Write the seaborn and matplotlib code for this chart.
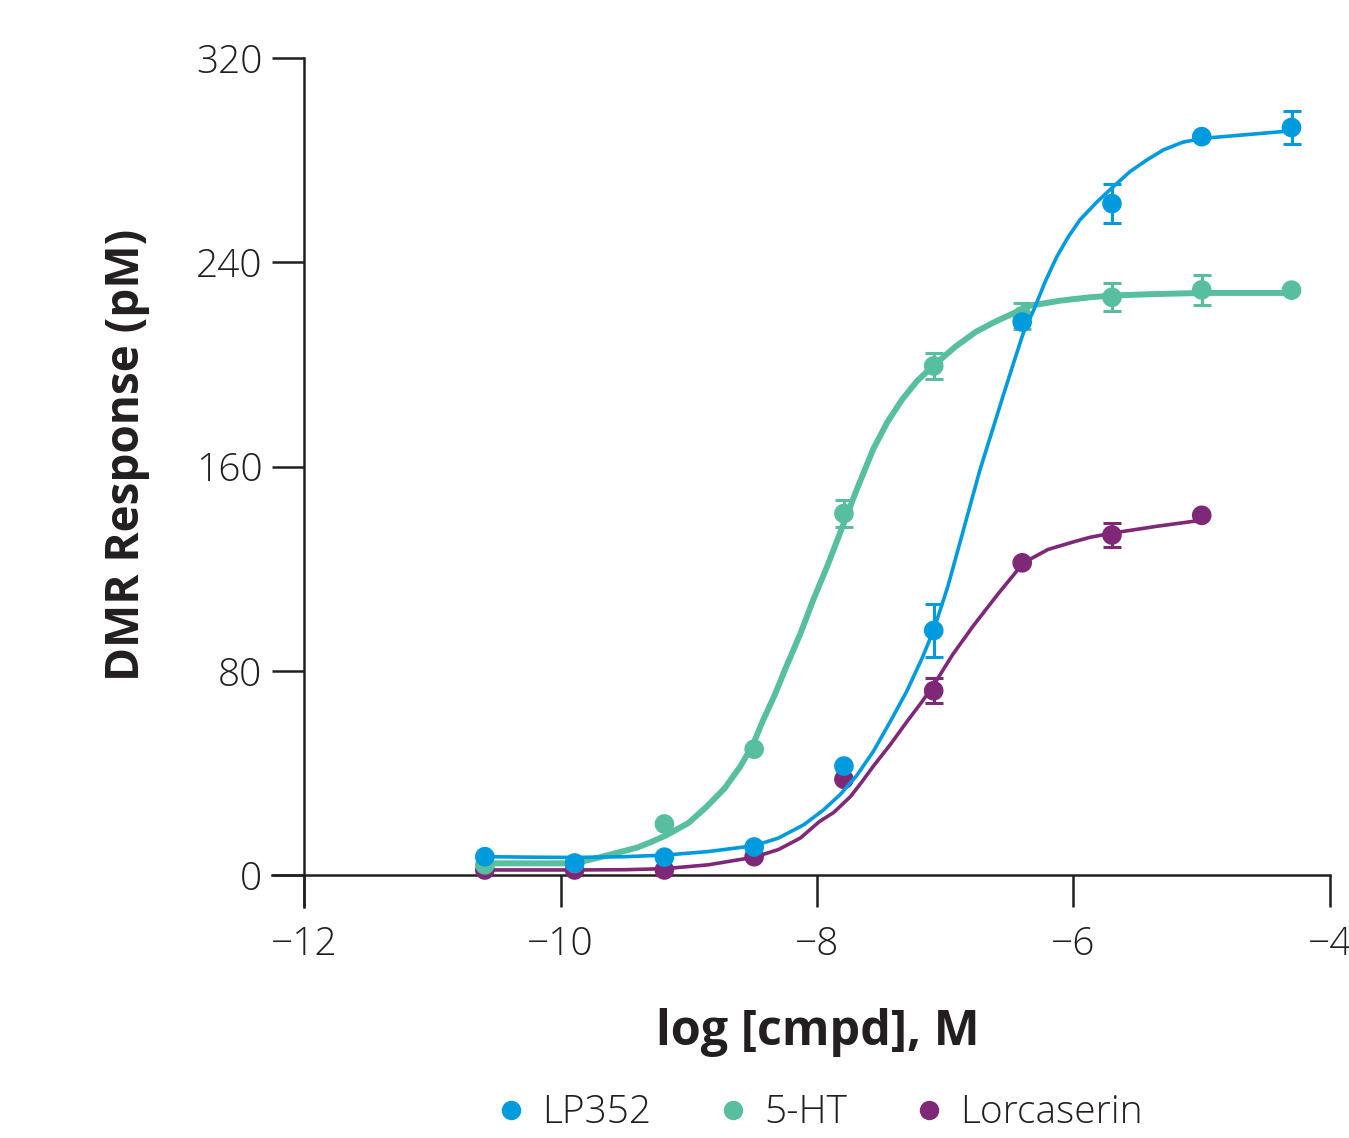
import numpy as np
import pandas as pd
import seaborn as sns
import matplotlib.pyplot as plt
from matplotlib.lines import Line2D

sns.set_style("white")
plt.rcParams["font.family"] = ["Open Sans", "DejaVu Sans"]

# 数据点 (log M)
dose = [-10.59, -9.89, -9.19, -8.49, -7.79, -7.09, -6.40, -5.70, -5.00, -4.30]
lp352_y = [7.2, 4.7, 7.0, 11.0, 42.7, 95.8, 216.6, 263.0, 289.2, 292.8]
lp352_err = [0, 0, 0, 0, 0, 10.5, 0, 7.7, 0, 6.5]
ht_y = [4.0, 4.6, 20.0, 49.3, 141.6, 199.4, 219.0, 226.3, 229.2, 229.1]
ht_err = [0, 0, 0, 0, 5.4, 5.2, 5.0, 5.5, 6.0, 0]
lorc_y = [2.0, 2.0, 2.0, 7.2, 37.5, 72.2, 122.3, 133.2, 140.9]
lorc_err = [0, 0, 0, 0, 0, 5.0, 0, 4.8, 0]

# 拟合曲线
lp352_fit_x = [-10.59, -10.2, -9.89, -9.5, -9.19, -8.85, -8.49, -8.3, -8.1, -7.95,
               -7.82, -7.69, -7.56, -7.43, -7.3, -7.18, -7.09, -6.98, -6.87, -6.73,
               -6.64, -6.55, -6.46, -6.39, -6.31, -6.22, -6.13, -6.04, -5.95, -5.82,
               -5.69, -5.56, -5.43, -5.3, -5.15, -5.0, -4.65, -4.3]
lp352_fit_y = [7.2, 7.0, 6.9, 7.2, 7.8, 9.2, 11.5, 14.5, 19.8, 25.5,
               31.5, 39.0, 48.5, 60.0, 72.0, 85.0, 96.0, 113.0, 133.0, 158.6,
               173.0, 187.5, 201.7, 212.5, 221.3, 232.5, 242.2, 250.0, 256.6, 263.5,
               269.6, 275.5, 280.0, 284.0, 287.0, 288.5, 290.0, 291.5]
ht_fit_x = [-10.59, -10.2, -9.89, -9.69, -9.56, -9.4, -9.3, -9.17, -9.0, -8.86,
            -8.72, -8.6, -8.5, -8.42, -8.33, -8.24, -8.13, -8.03, -7.92, -7.82,
            -7.69, -7.56, -7.45, -7.34, -7.22, -7.09, -6.92, -6.76, -6.62, -6.47,
            -6.34, -6.1, -5.87, -5.69, -5.4, -5.0, -4.3]
ht_fit_y = [4.6, 4.6, 4.6, 7.0, 8.7, 10.8, 12.8, 15.7, 20.5, 26.8,
            34.0, 42.4, 51.0, 60.7, 70.5, 81.6, 94.5, 107.7, 121.0, 134.0,
            151.0, 167.0, 177.5, 186.0, 193.5, 199.6, 207.0, 212.8, 216.5, 220.0,
            223.0, 225.0, 226.3, 227.0, 227.5, 228.0, 228.0]
lorc_fit_x = [-10.59, -10.2, -9.89, -9.5, -9.19, -8.85, -8.49, -8.3, -8.13, -7.98,
              -7.87, -7.74, -7.65, -7.56, -7.43, -7.3, -7.18, -7.09, -6.94, -6.78,
              -6.59, -6.39, -6.2, -6.0, -5.87, -5.69, -5.35, -5.0]
lorc_fit_y = [2.0, 2.0, 2.0, 2.1, 2.5, 4.0, 7.0, 10.0, 14.5, 21.0,
              24.5, 30.7, 36.5, 42.7, 51.0, 60.0, 68.0, 74.5, 86.5, 97.7,
              110.0, 122.3, 127.5, 130.5, 132.3, 134.0, 136.6, 139.0]

names = ["LP352", "5-HT", "Lorcaserin"]
colors = {"LP352": "#009ADE", "5-HT": "#57BF9F", "Lorcaserin": "#7F2878"}
widths = {"LP352": 2.6, "5-HT": 4.3, "Lorcaserin": 2.6}

points = {
    "LP352": (dose, lp352_y, lp352_err),
    "5-HT": (dose, ht_y, ht_err),
    "Lorcaserin": (dose[:9], lorc_y, lorc_err),
}
fits = {
    "LP352": (lp352_fit_x, lp352_fit_y),
    "5-HT": (ht_fit_x, ht_fit_y),
    "Lorcaserin": (lorc_fit_x, lorc_fit_y),
}

ink = "#231f20"
fig = plt.figure(figsize=(13.49, 11.38), dpi=100)
ax = fig.add_axes([0.2016, 0.2030, 0.7843, 0.7460])

# 紫色最底层, 蓝色最上层
for z, name in enumerate(["Lorcaserin", "5-HT", "LP352"]):
    fx, fy = fits[name]
    sns.lineplot(x=fx, y=fy, color=colors[name], linewidth=widths[name],
                 ax=ax, zorder=3 + 2 * z, legend=False)
    px, py, pe = points[name]
    df = pd.DataFrame({"x": px, "y": py, "e": pe})
    sns.scatterplot(data=df, x="x", y="y", color=colors[name], s=200,
                    edgecolor="none", ax=ax, zorder=4 + 2 * z, legend=False)
    de = df[df["e"] > 0]
    ax.errorbar(de["x"], de["y"], yerr=de["e"], fmt="none", ecolor=colors[name],
                elinewidth=2.2, capsize=6.5, capthick=2.2, zorder=4 + 2 * z)

ax.set_xlim(-12.25, -4)
ax.set_ylim(-12.5, 320)
ax.spines["left"].set_position(("data", -12))
ax.spines["bottom"].set_position(("data", 0))
ax.spines["top"].set_visible(False)
ax.spines["right"].set_visible(False)
for s in ["left", "bottom"]:
    ax.spines[s].set_linewidth(1.8)
    ax.spines[s].set_color(ink)
ax.set_xticks([-12, -10, -8, -6, -4])
ax.set_yticks([0, 80, 160, 240, 320])
ax.tick_params(axis="both", direction="out", length=23, width=1.8, color=ink,
               labelsize=28, labelcolor=ink)
ax.tick_params(axis="y", pad=7, left=True)
ax.tick_params(axis="x", pad=13, bottom=True)
for lab in ax.get_xticklabels() + ax.get_yticklabels():
    lab.set_fontweight("light")
ax.set_xlabel("")
ax.set_ylabel("")

fig.text(0.6064, 0.0817, "log [cmpd], M", fontsize=35, fontweight="bold",
         color=ink, ha="center", va="baseline")
fig.text(0.094, 0.600, "DMR Response (pM)", fontsize=33, fontweight="bold",
         color=ink, ha="center", va="center", rotation=90)

handles = [Line2D([], [], linestyle="none", marker="o", markersize=14,
                  markerfacecolor=colors[n], markeredgecolor="none") for n in names]
leg = fig.legend(handles, names, loc="center", bbox_to_anchor=(0.607, 0.022), ncol=3,
                 frameon=False, fontsize=28, handlelength=0.8, handletextpad=0.4,
                 columnspacing=1.7, labelcolor=ink)
for t in leg.get_texts():
    t.set_fontweight("light")

fig.savefig("out.png", dpi=100)
